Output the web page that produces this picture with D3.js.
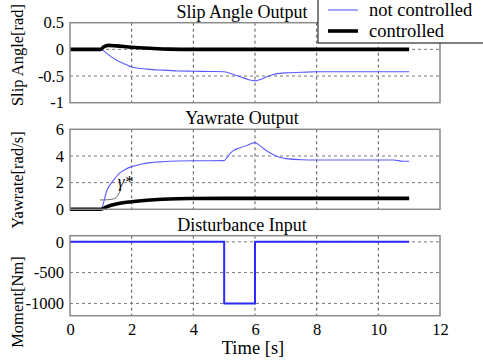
<!DOCTYPE html>
<html>
<head>
<meta charset="utf-8">
<script src="https://cdn.jsdelivr.net/npm/d3@7"></script>
<style>
  html, body { margin: 0; padding: 0; background: #fff; }
  svg { display: block; }
  text { font-family: "Liberation Serif", "Times New Roman", serif; fill: #000; }
</style>
</head>
<body>
<svg id="chart" width="483" height="363"></svg>
<script>
// Time axis ticks shared by all three panels
const xTicks = [0, 2, 4, 6, 8, 10, 12];

// Slip angle [rad]
const slipTicks = [-1, -0.5, 0, 0.5];
const slipFreeT = [0, 1.0, 1.2, 1.5, 1.8, 2.0, 2.5, 3.0, 3.5, 4.0, 4.5, 5.0, 5.3, 5.6, 5.8, 6.0, 6.2, 6.4, 6.6, 6.8, 7.0, 7.5, 8.0, 9.0, 10.0, 11.0];
const slipFreeV = [0, 0, -0.08, -0.2, -0.28, -0.33, -0.37, -0.39, -0.405, -0.41, -0.415, -0.42, -0.47, -0.53, -0.57, -0.59, -0.56, -0.51, -0.47, -0.45, -0.44, -0.43, -0.42, -0.42, -0.42, -0.42];
const slipCtrlT = [0, 1.0, 1.1, 1.25, 1.5, 2.0, 2.6, 3.2, 4.0, 11.0];
const slipCtrlV = [0, 0, 0.05, 0.075, 0.065, 0.04, 0.02, 0.005, 0, 0];

// Yaw rate [rad/s]
const yawTicks = [0, 2, 4, 6];
const yawFreeT = [0, 1.0, 1.2, 1.4, 1.6, 1.8, 2.0, 2.3, 2.6, 3.0, 3.5, 4.0, 5.0, 5.1, 5.2, 5.3, 5.5, 5.8, 6.0, 6.2, 6.4, 6.6, 6.8, 7.0, 7.5, 8.0, 10.5, 10.8, 11.0];
const yawFreeV = [0, 0, 1.45, 2.15, 2.7, 3.0, 3.2, 3.38, 3.5, 3.57, 3.62, 3.64, 3.65, 3.9, 4.2, 4.4, 4.6, 4.85, 5.0, 4.7, 4.35, 4.1, 3.9, 3.8, 3.72, 3.7, 3.7, 3.6, 3.6];
const yawCtrlT = [0, 1.0, 1.2, 1.5, 2.0, 2.5, 3.0, 3.5, 4.0, 5.0, 11.0];
const yawCtrlV = [0, 0, 0.2, 0.4, 0.57, 0.68, 0.75, 0.79, 0.81, 0.82, 0.82];
// reference yaw rate marker (γ*) leader line
const refT = [0.97, 1.45, 1.55, 1.65];
const refV = [0.7, 0.72, 1.0, 1.5];

// Disturbance moment [Nm]
const momTicks = [-1000, -500, 0];
const momT = [0, 5, 5, 6, 6, 11];
const momV = [0, 0, -1000, -1000, 0, 0];

const svg = d3.select("#chart");
const x = d3.scaleLinear().domain([0, 12]).range([70, 440]);

const panels = [
  { title: "Slip Angle Output", label: "Slip Angle[rad]", labelY: 55,
    domain: [-1, 0.5], top: 22.7, ticks: slipTicks, fmt: d => d === 0 ? "0" : String(d),
    series: [
      { t: slipFreeT, v: slipFreeV, color: "#5a5aff", width: 1.1 },
      { t: slipCtrlT, v: slipCtrlV, color: "#000", width: 3.6 }
    ] },
  { title: "Yawrate Output", label: "Yawrate[rad/s]", labelY: 180,
    domain: [0, 6], top: 129.3, ticks: yawTicks, fmt: d => String(d),
    series: [
      { t: yawFreeT, v: yawFreeV, color: "#5a5aff", width: 1.1 },
      { t: yawCtrlT, v: yawCtrlV, color: "#000", width: 3.6 }
    ] },
  { title: "Disturbance Input", label: "Moment[Nm]", labelY: 302,
    domain: [-1200, 100], top: 235.7, ticks: momTicks, fmt: d => String(d),
    series: [
      { t: momT, v: momV, color: "#2a2aff", width: 2, step: true }
    ] }
];
const panelH = 80;

panels.forEach((p, i) => {
  const y = d3.scaleLinear().domain(p.domain).range([p.top + panelH, p.top]);
  const g = svg.append("g");

  // dashed grid
  g.selectAll("line.vg").data(xTicks.slice(1, -1)).join("line")
    .attr("x1", d => x(d)).attr("x2", d => x(d))
    .attr("y1", p.top).attr("y2", p.top + panelH)
    .attr("stroke", "#555").attr("stroke-width", 1).attr("stroke-dasharray", "3,3");
  g.selectAll("line.hg").data(p.ticks.filter(d => y(d) > p.top + 1 && y(d) < p.top + panelH - 1)).join("line")
    .attr("x1", x(0)).attr("x2", x(12))
    .attr("y1", d => y(d)).attr("y2", d => y(d))
    .attr("stroke", "#777").attr("stroke-width", 1).attr("stroke-dasharray", "3,3");

  // y tick labels
  const yAxis = d3.axisLeft(y).tickValues(p.ticks).tickFormat(p.fmt).tickSize(0).tickPadding(6);
  const ya = g.append("g").attr("transform", `translate(${x(0)},0)`).call(yAxis);
  ya.attr("font-family", null).attr("font-size", null);
  ya.select(".domain").remove();
  ya.selectAll("text").style("font-size", "16.5px");

  // γ* reference marker on the yaw-rate panel
  if (i === 1) {
    g.append("path").datum(refT.map((t, k) => [t, refV[k]]))
      .attr("d", d3.line().curve(d3.curveBasis).x(d => x(d[0])).y(d => y(d[1])))
      .attr("fill", "none").attr("stroke", "#444").attr("stroke-width", 0.8);
    g.append("text").attr("x", x(1.55)).attr("y", y(1.65))
      .style("font-size", "17px").style("font-style", "italic").text("γ*");
  }

  // data lines
  p.series.forEach(s => {
    const pts = s.t.map((t, k) => [t, s.v[k]]);
    const line = d3.line().curve(s.step ? d3.curveLinear : d3.curveMonotoneX)
      .x(d => x(d[0])).y(d => y(d[1]));
    g.append("path").datum(pts).attr("d", line)
      .attr("fill", "none").attr("stroke", s.color).attr("stroke-width", s.width)
      .attr("stroke-linejoin", "round");
  });

  // frame
  g.append("rect").attr("x", x(0)).attr("y", p.top)
    .attr("width", x(12) - x(0)).attr("height", panelH)
    .attr("fill", "none").attr("stroke", "#8a8a8a").attr("stroke-width", 1.5);

  // panel title
  g.append("text").attr("x", 242).attr("y", p.top - 5)
    .attr("text-anchor", "middle").style("font-size", "18px").text(p.title);

  // y label
  g.append("text").attr("transform", `translate(23,${p.labelY}) rotate(-90)`)
    .attr("text-anchor", "middle").style("font-size", "16.5px").text(p.label);

  // x tick labels on the bottom panel
  if (i === 2) {
    const xAxis = d3.axisBottom(x).tickValues(xTicks).tickFormat(d3.format("d")).tickSize(0).tickPadding(8);
    const xa = g.append("g").attr("transform", `translate(0,${p.top + panelH})`).call(xAxis);
    xa.attr("font-family", null).attr("font-size", null);
    xa.select(".domain").remove();
    xa.selectAll("text").style("font-size", "16.5px");
  }
});

// x axis title
svg.append("text").attr("x", 253).attr("y", 354)
  .attr("text-anchor", "middle").style("font-size", "18.5px").text("Time [s]");

// legend
const legend = svg.append("g");
legend.append("rect").attr("x", 318).attr("y", -5).attr("width", 180).attr("height", 48)
  .attr("fill", "#fff").attr("stroke", "#000").attr("stroke-width", 1);
const legendItems = [
  { name: "not controlled", color: "#5a5aff", width: 1.1, y: 10 },
  { name: "controlled", color: "#000", width: 3.6, y: 31 }
];
legendItems.forEach(d => {
  legend.append("line").attr("x1", 328).attr("x2", 358).attr("y1", d.y).attr("y2", d.y)
    .attr("stroke", d.color).attr("stroke-width", d.width);
  legend.append("text").attr("x", 369).attr("y", d.y + 6)
    .style("font-size", "18.5px").text(d.name);
});

// serif face for every label
svg.selectAll("text").style("font-family", "'Liberation Serif', 'Times New Roman', serif");
</script>
</body>
</html>
